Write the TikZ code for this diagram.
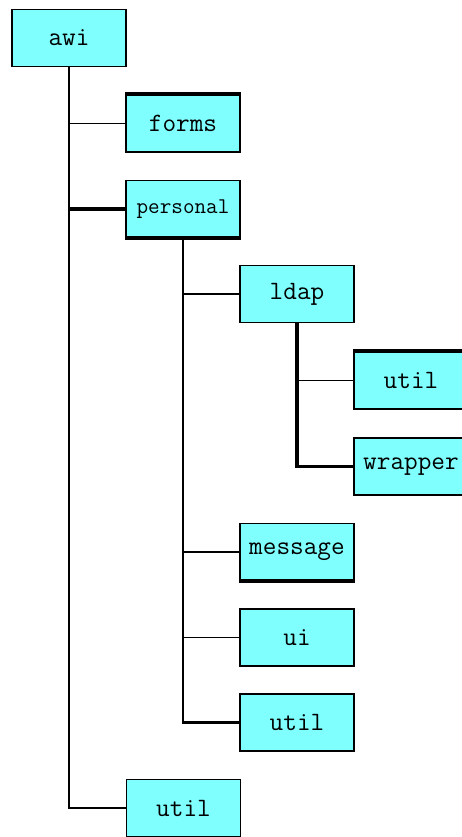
\documentclass[tikz,border=0pt]{standalone}
\usepackage{fontspec}
\definecolor{boxfill}{HTML}{80FFFF}
\tikzset{
  pkg/.style={draw=black, line width=1.5pt, fill=boxfill, rectangle,
    minimum width=114pt, minimum height=57pt, inner sep=0pt,
    font=\fontsize{26.5}{26.5}\selectfont\ttfamily},
  smalltext/.style={font=\fontsize{22.5}{22.5}\selectfont\ttfamily},
  link/.style={line width=1.5pt},
  heavylink/.style={line width=3.5pt},
  heavyedge/.style={line width=4pt}
}
\begin{document}
\begin{tikzpicture}[x=1pt,y=-1pt]
\useasboundingbox (0,0) rectangle (462,837);
\clip (0,0) rectangle (462,837);

% package boxes
\node[pkg] (awi) at (69,38) {awi};
\node[pkg] (forms) at (183,123.5) {forms};
\node[pkg,smalltext] (personal) at (183,209) {personal};
\node[pkg] (ldap) at (297,294) {ldap};
\node[pkg] (ldaputil) at (411,380.5) {util};
\node[pkg] (wrapper) at (411,466.5) {wrapper};
\node[pkg] (message) at (297,552) {message};
\node[pkg] (ui) at (297,637.5) {ui};
\node[pkg] (perutil) at (297,722.5) {util};
\node[pkg] (awiutil) at (183.5,808) {util};

% heavy box edges
\draw[heavyedge] (forms.north west) -- (forms.north east);
\draw[heavyedge] (personal.south west) -- (personal.south east);
\draw[heavyedge] (ldaputil.north west) -- (ldaputil.north east);
\draw[heavyedge] (message.south west) -- (message.south east);

% awi tree
\draw[link] (awi.south) |- (awiutil.west);
\draw[link] (awi.south |- forms.west) -- (forms.west);
\draw[heavylink] (awi.south |- personal.west) -- (personal.west);

% personal tree
\draw[link] (personal.south) -- (personal.south |- perutil.west);
\draw[link] (personal.south |- ldap.west) -- (ldap.west);
\draw[link] (personal.south |- message.west) -- (message.west);
\draw[link] (personal.south |- ui.west) -- (ui.west);
\draw[heavylink] ([xshift=-0.75pt]personal.south |- perutil.west) -- (perutil.west);

% ldap tree
\draw[heavylink] (ldap.south) -- ([yshift=1.75pt]ldap.south |- wrapper.west);
\draw[link] (ldap.south |- ldaputil.west) -- (ldaputil.west);
\draw[heavylink] ([xshift=-1.75pt]ldap.south |- wrapper.west) -- (wrapper.west);
\end{tikzpicture}
\end{document}
